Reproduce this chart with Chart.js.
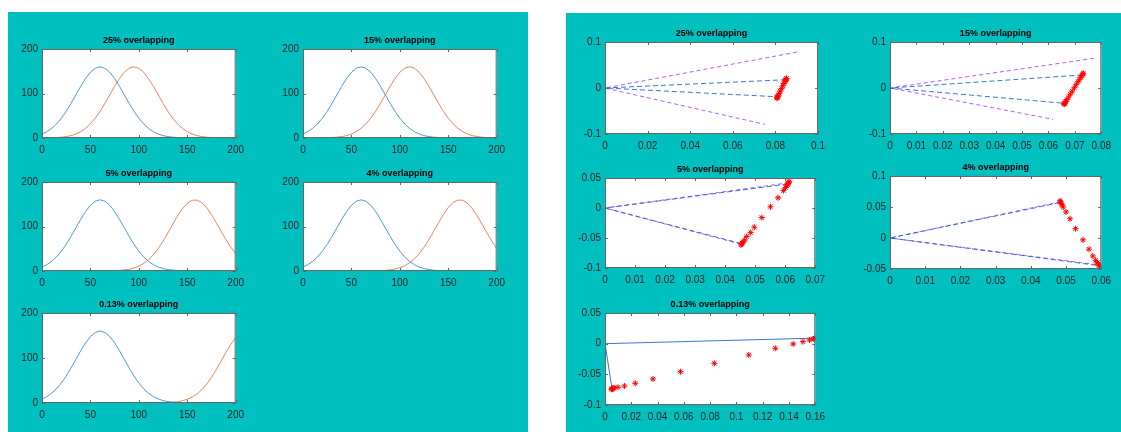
<!DOCTYPE html>
<html>
<head>
<meta charset="utf-8">
<script src="https://cdn.jsdelivr.net/npm/chart.js@4.4.1/dist/chart.umd.min.js"></script>
<style>
  html, body { margin: 0; padding: 0; background: #fff; width: 1121px; height: 432px; overflow: hidden; }
  .panel { position: absolute; background: rgb(0,191,191); }
  canvas { position: absolute; }
</style>
</head>
<body>
<div class="panel" style="left:8px;top:12px;width:520px;height:420px"></div>
<div class="panel" style="left:566px;top:13px;width:555px;height:419px"></div>
<script>
// ---- left panel: the two bell curves ----
const xGrid = [0,5,10,15,20,25,30,35,40,45,50,55,60,65,70,75,80,85,90,95,100,105,110,115,120,125,130,135,140,145,150,155,160,165,170,175,180,185,190,195,200];
const blueBell = [9.0,14.2,21.7,31.7,44.5,60.0,77.9,97.0,116.2,133.6,147.7,156.8,160.0,156.8,147.7,133.6,116.2,97.0,77.9,60.0,44.5,31.7,21.7,14.2,9.0,5.4,3.2,1.8,1.0,0.5,0.2,0.1,0.1,0,0,0,0,0,0,0,0];
const orange25 = [0.1,0.2,0.5,1.0,1.8,3.2,5.4,9.0,14.2,21.7,31.7,44.5,60.0,77.9,97.0,116.2,133.6,147.7,156.8,160.0,156.8,147.7,133.6,116.2,97.0,77.9,60.0,44.5,31.7,21.7,14.2,9.0,5.4,3.2,1.8,1.0,0.5,0.2,0.1,0.1,0];
const orange15 = [0,0,0.1,0.1,0.2,0.5,1.0,1.8,3.2,5.4,9.0,14.2,21.7,31.7,44.5,60.0,77.9,97.0,116.2,133.6,147.7,156.8,160.0,156.8,147.7,133.6,116.2,97.0,77.9,60.0,44.5,31.7,21.7,14.2,9.0,5.4,3.2,1.8,1.0,0.5,0.2];
const orange5 = [0,0,0,0,0,0,0,0,0,0,0,0,0.1,0.2,0.3,0.6,1.2,2.3,4.0,6.7,10.9,16.9,25.3,36.4,50.4,67.0,85.4,104.8,123.5,139.8,152.0,158.9,159.5,153.9,142.6,127.0,108.6,89.3,70.5,53.5,39.0];
const orange4 = [0,0,0,0,0,0,0,0,0,0,0,0,0,0.1,0.2,0.4,0.7,1.4,2.5,4.4,7.4,11.9,18.4,27.3,39.0,53.5,70.5,89.3,108.6,127.0,142.6,153.9,159.5,158.9,152.0,139.8,123.5,104.8,85.4,67.0,50.4];
const orange013 = [0,0,0,0,0,0,0,0,0,0,0,0,0,0,0,0,0,0,0,0,0,0,0,0.1,0.2,0.4,0.8,1.6,2.8,4.9,8.2,13.0,20.0,29.4,41.7,56.7,74.2,93.2,112.5,130.4,145.3];
const bellXTicks = [0,50,100,150,200];
const bellYTicks = [0,100,200];

// ---- right panel: lines from the origin and red points ----
const r25PurpleX = [0.090,0,0.075], r25PurpleY = [0.078,0,-0.079];
const r25BlueX = [0.0849,0,0.0809], r25BlueY = [0.018,0,-0.019];
const r25RedX = [0.0807,0.0808,0.0809,0.0811,0.0814,0.0818,0.0823,0.0829,0.0835,0.0840,0.0844,0.0847,0.0849,0.0851,0.0852];
const r25RedY = [-0.022,-0.021,-0.0201,-0.0182,-0.0153,-0.0115,-0.0067,-0.0010,0.0048,0.0095,0.0134,0.0162,0.0181,0.0200,0.0210];
const r25XTicks = [0,0.02,0.04,0.06,0.08,0.1], r25YTicks = [-0.1,0,0.1];

const r15PurpleX = [0.0772,0,0.0617], r15PurpleY = [0.0645,0,-0.068];
const r15BlueX = [0.0728,0,0.0661], r15BlueY = [0.0283,0,-0.0333];
const r15RedX = [0.0659,0.0660,0.0661,0.0663,0.0666,0.0670,0.0676,0.0683,0.0690,0.0698,0.0705,0.0712,0.0718,0.0723,0.0727,0.0730,0.0732];
const r15RedY = [-0.0355,-0.0346,-0.0336,-0.0318,-0.0290,-0.0253,-0.0198,-0.0133,-0.0068,0.0006,0.0071,0.0135,0.0191,0.0237,0.0274,0.0302,0.0320];
const r15XTicks = [0,0.01,0.02,0.03,0.04,0.05,0.06,0.07,0.08], r15YTicks = [-0.1,0,0.1];

const r5PurpleX = [0.0612,0,0.0454], r5PurpleY = [0.042,0,-0.0605];
const r5BlueX = [0.0608,0,0.0452], r5BlueY = [0.040,0,-0.059];
const r5RedX = [0.0453,0.0455,0.0457,0.0460,0.0465,0.0472,0.0485,0.0497,0.0522,0.0551,0.0576,0.0594,0.0601,0.0605,0.0608,0.0610,0.0612,0.0613];
const r5RedY = [-0.0615,-0.0600,-0.0585,-0.0565,-0.0535,-0.0475,-0.041,-0.032,-0.016,0.002,0.017,0.029,0.034,0.037,0.039,0.041,0.043,0.044];
const r5XTicks = [0,0.01,0.02,0.03,0.04,0.05,0.06,0.07], r5YTicks = [-0.1,-0.05,0,0.05];

const r4PurpleX = [0.0484,0,0.0594], r4PurpleY = [0.0585,0,-0.0435];
const r4BlueX = [0.0482,0,0.0592], r4BlueY = [0.057,0,-0.0445];
const r4RedX = [0.0483,0.0484,0.0486,0.0489,0.0492,0.0500,0.0511,0.0527,0.0548,0.0565,0.0576,0.0584,0.0589,0.0592,0.0594,0.0595];
const r4RedY = [0.060,0.058,0.056,0.053,0.050,0.042,0.031,0.015,-0.003,-0.018,-0.029,-0.036,-0.040,-0.042,-0.044,-0.045];
const r4XTicks = [0,0.01,0.02,0.03,0.04,0.05,0.06], r4YTicks = [-0.05,0,0.05,0.1];

const r013BlueX = [0.1598,0,0.0053], r013BlueY = [0.009,0,-0.073];
const r013RedX = [0.0050,0.0053,0.0057,0.0062,0.0070,0.0099,0.0148,0.0230,0.0365,0.0575,0.0832,0.1094,0.1296,0.1432,0.1506,0.1556,0.1585,0.1595,0.1598];
const r013RedY = [-0.0745,-0.0730,-0.0739,-0.0725,-0.0720,-0.0711,-0.0690,-0.0646,-0.0576,-0.0457,-0.0320,-0.0184,-0.0075,-0.0005,0.0033,0.0060,0.0075,0.0082,0.0090];
const r013XTicks = [0,0.02,0.04,0.06,0.08,0.1,0.12,0.14,0.16], r013YTicks = [-0.1,-0.05,0,0.05];

// colours
const BLUE = 'rgba(0,114,189,0.7)';
const ORANGE = 'rgba(217,83,25,0.7)';
const PURPLE = 'rgb(180,90,255)';
const LBLUE = 'rgba(20,95,200,0.85)';
const RED = 'rgb(255,0,0)';

Chart.defaults.font.family = '"Liberation Sans Narrow", "Liberation Sans", Arial, sans-serif';
Chart.defaults.font.size = 10;
Chart.defaults.color = '#262626';

const YW = 34, XH = 22, TH = 18, RP = 10;

const pts = (xs, ys) => xs.map((x, i) => ({ x: x, y: ys[i] }));

// white axes background, then matlab-like box with inward ticks on all sides
const boxTicks = {
  id: 'boxTicks',
  beforeDatasetsDraw(chart) {
    const { ctx, chartArea: a } = chart;
    ctx.save();
    ctx.fillStyle = '#fff';
    ctx.fillRect(a.left, a.top, a.width, a.height);
    ctx.restore();
  },
  afterDatasetsDraw(chart) {
    const { ctx, chartArea: a, scales: { x, y } } = chart;
    ctx.save();
    ctx.strokeStyle = '#666';
    ctx.lineWidth = 1;
    ctx.beginPath();
    x.ticks.forEach(t => {
      const px = Math.round(x.getPixelForValue(t.value)) + 0.5;
      ctx.moveTo(px, a.bottom); ctx.lineTo(px, a.bottom - 3);
      ctx.moveTo(px, a.top); ctx.lineTo(px, a.top + 3);
    });
    y.ticks.forEach(t => {
      const py = Math.round(y.getPixelForValue(t.value)) + 0.5;
      ctx.moveTo(a.left, py); ctx.lineTo(a.left + 3, py);
      ctx.moveTo(a.right, py); ctx.lineTo(a.right - 3, py);
    });
    ctx.stroke();
    ctx.strokeRect(a.left + 0.5, a.top + 0.5, a.width - 1, a.height - 1);
    ctx.restore();
  }
};

function lineSet(xs, ys, color, dash, order) {
  return { data: pts(xs, ys), showLine: true, borderColor: color, borderWidth: 1,
           borderDash: dash, pointRadius: 0, order: order };
}
function redSet(xs, ys) {
  return { data: pts(xs, ys), showLine: false, pointStyle: 'star', pointRadius: 3,
           borderColor: RED, backgroundColor: RED, borderWidth: 1, order: 0 };
}

function chartAt(box, title, xTicks, yTicks, datasets) {
  const cv = document.createElement('canvas');
  const w = box.w + YW + RP, h = TH + box.h + XH;
  cv.width = w; cv.height = h;
  cv.style.width = w + 'px'; cv.style.height = h + 'px';
  cv.style.left = (box.x - YW) + 'px';
  cv.style.top = (box.y - TH) + 'px';
  document.body.appendChild(cv);
  const fmt = v => String(+Number(v).toFixed(4));
  new Chart(cv, {
    type: 'scatter',
    data: { datasets: datasets },
    options: {
      responsive: false,
      animation: false,
      devicePixelRatio: 1,
      layout: { padding: { left: 0, right: RP, top: 0, bottom: 0 } },
      plugins: {
        legend: { display: false },
        tooltip: { enabled: false },
        title: { display: true, text: title, fullSize: false, color: '#000',
                 font: { size: 9, weight: 'bold', lineHeight: 1 },
                 padding: { top: 5, bottom: 4 } }
      },
      scales: {
        x: {
          type: 'linear', min: xTicks[0], max: xTicks[xTicks.length - 1],
          grid: { display: false, drawTicks: false }, border: { display: false },
          afterBuildTicks: s => { s.ticks = xTicks.map(v => ({ value: v })); },
          afterFit: s => { s.height = XH; },
          ticks: { padding: 6, maxRotation: 0, autoSkip: false, callback: fmt }
        },
        y: {
          type: 'linear', min: yTicks[0], max: yTicks[yTicks.length - 1],
          grid: { display: false, drawTicks: false }, border: { display: false },
          afterBuildTicks: s => { s.ticks = yTicks.map(v => ({ value: v })); },
          afterFit: s => { s.width = YW; },
          ticks: { padding: 4, autoSkip: false, callback: fmt }
        }
      }
    },
    plugins: [boxTicks]
  });
}

function bells(orange) {
  return [lineSet(xGrid, blueBell, BLUE, [], 2), lineSet(xGrid, orange, ORANGE, [], 1)];
}

// left panel
chartAt({ x: 42, y: 49, w: 198, h: 89 }, '25% overlapping', bellXTicks, bellYTicks, bells(orange25));
chartAt({ x: 303, y: 49, w: 198, h: 89 }, '15% overlapping', bellXTicks, bellYTicks, bells(orange15));
chartAt({ x: 42, y: 182, w: 198, h: 89 }, '5% overlapping', bellXTicks, bellYTicks, bells(orange5));
chartAt({ x: 303, y: 182, w: 198, h: 89 }, '4% overlapping', bellXTicks, bellYTicks, bells(orange4));
chartAt({ x: 42, y: 313, w: 198, h: 90 }, '0.13% overlapping', bellXTicks, bellYTicks, bells(orange013));

// right panel
chartAt({ x: 605, y: 42, w: 216, h: 92 }, '25% overlapping', r25XTicks, r25YTicks, [
  redSet(r25RedX, r25RedY),
  lineSet(r25BlueX, r25BlueY, LBLUE, [5, 3], 1),
  lineSet(r25PurpleX, r25PurpleY, PURPLE, [4, 3], 2)
]);
chartAt({ x: 890, y: 42, w: 217, h: 92 }, '15% overlapping', r15XTicks, r15YTicks, [
  redSet(r15RedX, r15RedY),
  lineSet(r15BlueX, r15BlueY, LBLUE, [5, 3], 1),
  lineSet(r15PurpleX, r15PurpleY, PURPLE, [4, 3], 2)
]);
chartAt({ x: 605, y: 178, w: 216, h: 90 }, '5% overlapping', r5XTicks, r5YTicks, [
  redSet(r5RedX, r5RedY),
  lineSet(r5BlueX, r5BlueY, LBLUE, [5, 3], 1),
  lineSet(r5PurpleX, r5PurpleY, PURPLE, [4, 3], 2)
]);
chartAt({ x: 890, y: 176, w: 217, h: 93 }, '4% overlapping', r4XTicks, r4YTicks, [
  redSet(r4RedX, r4RedY),
  lineSet(r4BlueX, r4BlueY, LBLUE, [5, 3], 1),
  lineSet(r4PurpleX, r4PurpleY, PURPLE, [4, 3], 2)
]);
chartAt({ x: 605, y: 313, w: 216, h: 92 }, '0.13% overlapping', r013XTicks, r013YTicks, [
  redSet(r013RedX, r013RedY),
  lineSet(r013BlueX, r013BlueY, LBLUE, [], 1)
]);
</script>
</body>
</html>
